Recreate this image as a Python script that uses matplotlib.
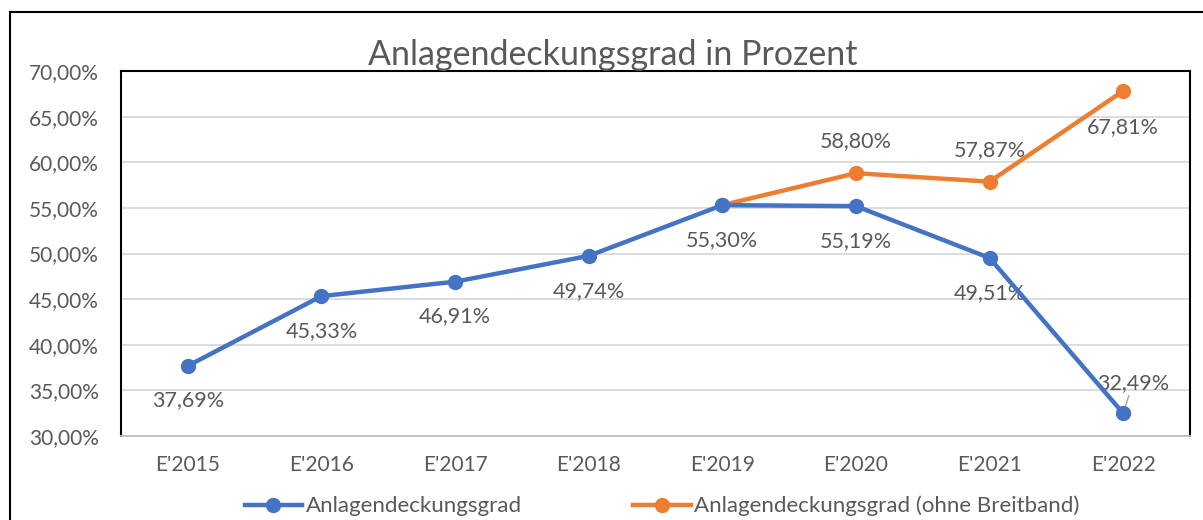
import matplotlib.pyplot as plt
from matplotlib.lines import Line2D
from matplotlib.ticker import FuncFormatter

plt.rcParams['font.family'] = ['Lato', 'DejaVu Sans']

years = ["E'2015", "E'2016", "E'2017", "E'2018", "E'2019", "E'2020", "E'2021", "E'2022"]
deckung = [37.69, 45.33, 46.91, 49.74, 55.30, 55.19, 49.51, 32.49]
ohne_breitband = [55.30, 58.80, 57.87, 67.81]  # ab E'2019
start_ohne = 4

blue = '#4472C4'
orange = '#ED7D31'
grey = '#595959'

fig = plt.figure(figsize=(12.03, 5.2), dpi=100)
ax = fig.add_axes([0.1006, 0.1615, 0.8886, 0.702])

# Rahmen um das ganze Diagramm (nur links und oben sichtbar)
fig.add_artist(Line2D([10 / 1203, 10 / 1203], [0, 1 - 12 / 520], transform=fig.transFigure,
                      color='black', lw=1.5))
fig.add_artist(Line2D([10 / 1203, 1], [1 - 12 / 520, 1 - 12 / 520], transform=fig.transFigure,
                      color='black', lw=1.5))

x = list(range(len(years)))
x2 = x[start_ohne:]

ax.plot(x2, ohne_breitband, color=orange, lw=3.2, marker='o', ms=10, zorder=3,
        solid_capstyle='round')
ax.plot(x, deckung, color=blue, lw=3.2, marker='o', ms=10, zorder=4,
        solid_capstyle='round')


def fmt(v):
    return f'{v:.2f}%'.replace('.', ',')


# Datenbeschriftungen
lab_size = 15.5
for i, v in enumerate(deckung):
    if i == 7:
        ax.annotate(fmt(v), (x[i], v), xytext=(7, 22), textcoords='offset points',
                    ha='center', va='center', fontsize=lab_size, color=grey,
                    arrowprops=dict(arrowstyle='-', color='#a6a6a6', lw=1, shrinkA=0, shrinkB=4))
    else:
        ax.annotate(fmt(v), (x[i], v), xytext=(0, -25), textcoords='offset points',
                    ha='center', va='center', fontsize=lab_size, color=grey)

for i, v in zip(x2[1:], ohne_breitband[1:]):
    dy = -26 if i == 7 else 23
    ax.annotate(fmt(v), (i, v), xytext=(0, dy), textcoords='offset points',
                ha='center', va='center', fontsize=lab_size, color=grey)

ax.set_xlim(-0.5, len(years) - 0.5)
ax.set_ylim(30, 70)
ax.set_yticks(range(30, 71, 5))
ax.yaxis.set_major_formatter(FuncFormatter(lambda v, p: f'{v:.2f}%'.replace('.', ',')))
ax.set_xticks(x)
ax.set_xticklabels(years)
ax.tick_params(axis='both', length=0, labelsize=15, labelcolor=grey)
ax.tick_params(axis='x', pad=14)
ax.tick_params(axis='y', pad=16)
ax.grid(axis='y', color='#d9d9d9', lw=1.3)
ax.set_axisbelow(True)

for s in ['left', 'top', 'right']:
    ax.spines[s].set_color('black')
    ax.spines[s].set_linewidth(1.5)
ax.spines['bottom'].set_color('#bfbfbf')
ax.spines['bottom'].set_linewidth(1.3)

fig.text(0.509, 1 - 55 / 520, 'Anlagendeckungsgrad in Prozent', ha='center', va='center',
         fontsize=24.5, color=grey)

handles = [
    Line2D([], [], color=blue, lw=3.2, marker='o', ms=10),
    Line2D([], [], color=orange, lw=3.2, marker='o', ms=10),
]
fig.legend(handles, ['Anlagendeckungsgrad', 'Anlagendeckungsgrad (ohne Breitband)'],
           loc='center', bbox_to_anchor=(662 / 1203, 1 - 506 / 520), ncol=2, frameon=False,
           fontsize=16, labelcolor=grey, handlelength=2.6, handletextpad=0.15,
           columnspacing=5.0)

fig.savefig('out.png', dpi=100)
